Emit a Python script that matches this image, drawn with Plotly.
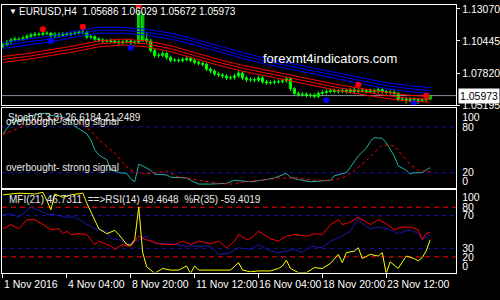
import plotly.graph_objects as go

# ---------------- data ----------------
bar_idx = list(range(108))
opens = [1.1000, 1.1013, 1.1037, 1.1052, 1.1060, 1.1058, 1.1068, 1.1084, 1.1092, 1.1100,
         1.1098, 1.1108, 1.1106, 1.1084, 1.1100, 1.1092, 1.1100, 1.1098, 1.1102, 1.1108,
         1.1116, 1.1114, 1.1076, 1.1078, 1.1060, 1.1052, 1.1044, 1.1046, 1.1042, 1.1037,
         1.1029, 1.1037, 1.1044, 1.1029, 1.1035, 1.1050, 1.1060, 1.1044, 1.0965, 1.0925,
         1.0927, 1.0941, 1.0909, 1.0885, 1.0887, 1.0883, 1.0893, 1.0901, 1.0885, 1.0869,
         1.0861, 1.0853, 1.0814, 1.0798, 1.0774, 1.0766, 1.0758, 1.0742, 1.0744, 1.0758,
         1.0782, 1.0742, 1.0726, 1.0728, 1.0724, 1.0742, 1.0710, 1.0702, 1.0704, 1.0710,
         1.0712, 1.0718, 1.0734, 1.0654, 1.0615, 1.0607, 1.0609, 1.0599, 1.0601, 1.0591,
         1.0615, 1.0623, 1.0631, 1.0639, 1.0631, 1.0633, 1.0639, 1.0631, 1.0646, 1.0631,
         1.0639, 1.0637, 1.0631, 1.0639, 1.0631, 1.0646, 1.0631, 1.0623, 1.0625, 1.0615,
         1.0567, 1.0569, 1.0559, 1.0567, 1.0565, 1.0559, 1.0561, 1.05686]
highs = [1.1030, 1.1052, 1.1068, 1.1080, 1.1074, 1.1086, 1.1100, 1.1112, 1.1118, 1.1114,
         1.1126, 1.1124, 1.1120, 1.1116, 1.1114, 1.1118, 1.1116, 1.1120, 1.1126, 1.1134,
         1.1138, 1.1128, 1.1094, 1.1092, 1.1074, 1.1068, 1.1062, 1.1064, 1.1058, 1.1052,
         1.1054, 1.1062, 1.1060, 1.1052, 1.1300, 1.1278, 1.1110, 1.1060, 1.0984, 1.0946,
         1.0962, 1.0956, 1.0924, 1.0904, 1.0902, 1.0910, 1.0920, 1.0916, 1.0900, 1.0884,
         1.0876, 1.0868, 1.0830, 1.0812, 1.0790, 1.0782, 1.0772, 1.0762, 1.0776, 1.0800,
         1.0796, 1.0758, 1.0746, 1.0744, 1.0760, 1.0756, 1.0726, 1.0722, 1.0728, 1.0730,
         1.0736, 1.0752, 1.0748, 1.0668, 1.0630, 1.0626, 1.0624, 1.0618, 1.0616, 1.0632,
         1.0642, 1.0650, 1.0656, 1.0654, 1.0652, 1.0658, 1.0654, 1.0664, 1.0662, 1.0658,
         1.0656, 1.0652, 1.0656, 1.0654, 1.0662, 1.0660, 1.0646, 1.0642, 1.0640, 1.0628,
         1.0586, 1.0584, 1.0584, 1.0584, 1.0580, 1.0578, 1.0586, 1.06029]
lows = [1.0984, 1.1000, 1.1022, 1.1040, 1.1042, 1.1046, 1.1056, 1.1070, 1.1078, 1.1082,
        1.1086, 1.1090, 1.1066, 1.1070, 1.1076, 1.1080, 1.1082, 1.1084, 1.1090, 1.1094,
        1.1098, 1.1060, 1.1062, 1.1044, 1.1036, 1.1028, 1.1030, 1.1026, 1.1020, 1.1012,
        1.1014, 1.1022, 1.1010, 1.1016, 1.1022, 1.1036, 1.1024, 1.0950, 1.0906, 1.0908,
        1.0912, 1.0890, 1.0868, 1.0870, 1.0866, 1.0868, 1.0878, 1.0868, 1.0852, 1.0844,
        1.0836, 1.0798, 1.0780, 1.0756, 1.0748, 1.0740, 1.0724, 1.0726, 1.0728, 1.0742,
        1.0726, 1.0708, 1.0710, 1.0706, 1.0708, 1.0692, 1.0686, 1.0686, 1.0688, 1.0694,
        1.0696, 1.0702, 1.0636, 1.0598, 1.0590, 1.0590, 1.0582, 1.0582, 1.0574, 1.0578,
        1.0600, 1.0606, 1.0616, 1.0614, 1.0614, 1.0618, 1.0612, 1.0614, 1.0614, 1.0616,
        1.0620, 1.0614, 1.0616, 1.0614, 1.0616, 1.0614, 1.0606, 1.0606, 1.0598, 1.0550,
        1.0550, 1.0532, 1.0542, 1.0546, 1.0530, 1.0544, 1.0548, 1.05672]
closes = [1.1013, 1.1037, 1.1052, 1.1060, 1.1058, 1.1068, 1.1084, 1.1092, 1.1100, 1.1098,
          1.1108, 1.1106, 1.1084, 1.1100, 1.1092, 1.1100, 1.1098, 1.1102, 1.1108, 1.1116,
          1.1114, 1.1076, 1.1078, 1.1060, 1.1052, 1.1044, 1.1046, 1.1042, 1.1037, 1.1029,
          1.1037, 1.1044, 1.1029, 1.1035, 1.1267, 1.1255, 1.1044, 1.0965, 1.0925, 1.0927,
          1.0941, 1.0909, 1.0885, 1.0887, 1.0883, 1.0893, 1.0901, 1.0885, 1.0869, 1.0861,
          1.0853, 1.0814, 1.0798, 1.0774, 1.0766, 1.0758, 1.0742, 1.0744, 1.0758, 1.0782,
          1.0742, 1.0726, 1.0728, 1.0724, 1.0742, 1.0710, 1.0702, 1.0704, 1.0710, 1.0712,
          1.0718, 1.0734, 1.0654, 1.0615, 1.0607, 1.0609, 1.0599, 1.0601, 1.0591, 1.0615,
          1.0623, 1.0631, 1.0639, 1.0631, 1.0633, 1.0639, 1.0631, 1.0646, 1.0631, 1.0639,
          1.0637, 1.0631, 1.0639, 1.0631, 1.0646, 1.0631, 1.0623, 1.0625, 1.0615, 1.0567,
          1.0569, 1.0559, 1.0567, 1.0565, 1.0559, 1.0561, 1.0569, 1.05973]

band_idx = [0, 6, 12, 18, 24, 30, 36, 42, 48, 54, 60, 66, 72, 78, 84, 90, 96, 102, 107]
blue1 = [1.1029, 1.1060, 1.1084, 1.1124, 1.1156, 1.1156, 1.1140, 1.1108, 1.1060, 1.1005,
         1.0949, 1.0901, 1.0861, 1.0822, 1.0782, 1.0742, 1.0702, 1.0678, 1.0662]
blue2 = [1.1005, 1.1036, 1.1060, 1.1100, 1.1132, 1.1132, 1.1116, 1.1084, 1.1036, 1.0981,
         1.0925, 1.0877, 1.0837, 1.0798, 1.0758, 1.0718, 1.0678, 1.0654, 1.0638]
blue3 = [1.0981, 1.1012, 1.1036, 1.1076, 1.1108, 1.1108, 1.1092, 1.1060, 1.1012, 1.0957,
         1.0901, 1.0853, 1.0813, 1.0774, 1.0734, 1.0694, 1.0654, 1.0630, 1.0614]
red1 = [1.0917, 1.0941, 1.0973, 1.1005, 1.1044, 1.1060, 1.1044, 1.1005, 1.0949, 1.0893,
        1.0845, 1.0806, 1.0766, 1.0726, 1.0686, 1.0654, 1.0623, 1.0599, 1.0591]
red2 = [1.0893, 1.0917, 1.0949, 1.0981, 1.1020, 1.1036, 1.1020, 1.0981, 1.0925, 1.0869,
        1.0821, 1.0782, 1.0742, 1.0702, 1.0662, 1.0630, 1.0599, 1.0575, 1.0567]
red3 = [1.0869, 1.0893, 1.0925, 1.0957, 1.0996, 1.1012, 1.0996, 1.0957, 1.0901, 1.0845,
        1.0797, 1.0758, 1.0718, 1.0678, 1.0638, 1.0606, 1.0575, 1.0551, 1.0543]

red_dot_idx = [10, 20, 34, 89, 106]
red_dot_price = [1.1140, 1.1160, 1.1331, 1.0686, 1.0596]
blue_dot_idx = [12, 32, 81, 103]
blue_dot_price = [1.1044, 1.0989, 1.0559, 1.0535]

last_price = 1.05973
price_ticks = [1.13070, 1.10445, 1.07820, 1.05195]

stoch_main_idx = [0, 2, 6, 9, 11, 12, 14, 16, 18, 21, 22, 23, 24, 26, 27, 29, 31, 32, 33, 34,
                  35, 37, 38, 41, 42, 46, 47, 49, 52, 56, 58, 60, 62, 66, 68, 70, 71, 72, 74, 77,
                  79, 82, 83, 86, 87, 89, 91, 92, 93, 95, 96, 98, 99, 101, 102, 103, 105, 107]
stoch_main = [71, 85, 93, 97, 98, 95, 94, 91, 81, 71, 63, 50, 43, 37, 24, 20, 19, 12, 8, 31,
              29, 23, 18, 17, 14, 13, 10, 5, 5, 6, 10, 9, 8, 11, 13, 17, 19, 14, 11, 8,
              9, 10, 16, 20, 27, 42, 52, 61, 66, 65, 59, 42, 29, 23, 18, 20, 20, 26.6184]
stoch_sig_idx = [0, 2, 4, 8, 12, 16, 19, 22, 24, 28, 30, 32, 34, 37, 41, 44, 47, 51, 54, 57,
                 62, 65, 69, 72, 74, 77, 79, 82, 85, 87, 90, 93, 95, 96, 98, 100, 102, 104, 107]
stoch_sig = [70, 74, 78, 87, 91, 91, 87, 75, 63, 46, 33, 23, 19, 19, 22, 14, 12, 8, 6, 5,
             9, 10, 13, 13, 13, 10, 10, 10, 13, 19, 31, 46, 56, 56, 55, 43, 31, 23, 21.2489]
stoch_levels = [80, 20]
stoch_tick_pos = [92, 80, 20, 8]
stoch_tick_text = ["100", "80", "20", "0"]

wpr_idx = [0, 4, 8, 10, 11, 12, 13, 15, 17, 20, 21, 22, 24, 26, 28, 29, 31, 32, 33, 34,
           35, 36, 37, 38, 40, 42, 44, 46, 47, 48, 49, 53, 57, 59, 60, 62, 64, 67, 69, 70,
           71, 72, 74, 76, 78, 80, 81, 82, 84, 85, 86, 88, 89, 90, 92, 94, 95, 96, 97, 99,
           101, 103, 104, 105, 106, 107]
wpr_shifted = [95, 97, 96, 98, 88, 77, 96, 92, 95, 97, 85, 75, 54, 48, 52, 47, 35, 34, 41, 80,
               25, 8, 4, 0, 6, 4, 4, 9, 0, 9, 4, 4, 4, 13, 4, 2, 3, 3, 6, 9,
               16, 6, 1, 1, 7, 6, 9, 12, 23, 13, 25, 27, 31, 18, 23, 21, 25, 0, 14, 6,
               21, 18, 15, 19, 27, 40.6]
rsi_idx = [0, 2, 4, 6, 8, 10, 12, 14, 15, 16, 17, 19, 21, 23, 24, 27, 28, 30, 31, 32,
           34, 35, 37, 39, 41, 43, 45, 47, 49, 52, 54, 56, 58, 59, 61, 62, 64, 67, 69, 71,
           73, 76, 78, 80, 82, 84, 85, 87, 89, 91, 92, 94, 96, 98, 100, 102, 104, 105, 106, 107]
rsi = [54, 59, 54, 65, 65, 59, 53, 54, 48, 51, 47, 48, 47, 35, 39, 33, 29, 35, 33, 33,
       45, 42, 39, 36, 35, 35, 39, 35, 39, 36, 39, 31, 39, 47, 41, 42, 51, 42, 39, 45,
       47, 45, 48, 47, 59, 65, 59, 62, 68, 62, 59, 65, 60, 53, 56, 56, 53, 41, 48, 49.5]
mfi_idx = [0, 2, 4, 7, 8, 11, 13, 16, 18, 21, 23, 26, 27, 29, 31, 32, 34, 36, 38, 41,
           43, 46, 49, 52, 54, 57, 59, 62, 64, 67, 69, 71, 73, 75, 77, 80, 82, 85, 87, 89,
           90, 92, 94, 97, 99, 102, 104, 105, 107]
mfi = [71, 72, 68, 80, 78, 72, 71, 68, 68, 60, 54, 51, 42, 41, 36, 36, 41, 45, 36, 36,
       35, 33, 33, 33, 23, 25, 31, 29, 35, 27, 25, 27, 29, 25, 33, 31, 39, 45, 51, 68,
       60, 54, 56, 53, 48, 53, 48, 41, 46.7]
osc_red_levels = [80, 20]
osc_blue_levels = [70, 30]
osc_tick_pos = [92, 80, 70, 30, 20, 8]
osc_tick_text = ["100", "80", "70", "30", "20", "0"]

time_tick_idx = [0, 16, 32, 48, 64, 80, 96]
time_tick_text = ["1 Nov 2016", "4 Nov 04:00", "8 Nov 20:00", "11 Nov 12:00",
                  "16 Nov 04:00", "18 Nov 20:00", "23 Nov 12:00"]

title_text = "EURUSD,H4  1.05686 1.06029 1.05672 1.05973"
stoch_text = "Stoch(8,3,3) 26.6184 21.2489"
signal_text = "overbought- strong signal"
osc_text = "MFI(21) 46.7311  ==>RSI(14) 49.4648  %R(35) -59.4019"
watermark = "forexmt4indicators.com"

# ---------------- figure ----------------
FONT = "Liberation Sans, Arial, sans-serif"
W, H = 500, 300
LIME = "#00ff00"
fig = go.Figure()

# candle wicks
wx, wy = [], []
for i, h, l in zip(bar_idx, highs, lows):
    wx += [i, i, None]
    wy += [l, h, None]
fig.add_trace(go.Scatter(x=wx, y=wy, mode="lines", xaxis="x", yaxis="y",
                         line=dict(color=LIME, width=1), showlegend=False, hoverinfo="skip"))

# candle bodies: rising = hollow, falling = filled
up_x, up_base, up_h, dn_x, dn_base, dn_h = [], [], [], [], [], []
for i, o, c in zip(bar_idx, opens, closes):
    if c >= o:
        up_x.append(i); up_base.append(o); up_h.append(max(c - o, 0.00008))
    else:
        dn_x.append(i); dn_base.append(c); dn_h.append(o - c)
fig.add_trace(go.Bar(x=up_x, y=up_h, base=up_base, xaxis="x", yaxis="y", width=0.55,
                     marker=dict(color="#000000", line=dict(color=LIME, width=1)),
                     showlegend=False, hoverinfo="skip"))
fig.add_trace(go.Bar(x=dn_x, y=dn_h, base=dn_base, xaxis="x", yaxis="y", width=0.55,
                     marker=dict(color=LIME, line=dict(color=LIME, width=1)),
                     showlegend=False, hoverinfo="skip"))

for arr, col in [(blue1, "#0000ff"), (blue2, "#0000ff"), (blue3, "#0000ff"),
                 (red1, "#ff0000"), (red2, "#ff0000"), (red3, "#ff0000")]:
    fig.add_trace(go.Scatter(x=band_idx, y=arr, mode="lines", xaxis="x", yaxis="y",
                             line=dict(color=col, width=1), showlegend=False, hoverinfo="skip"))

fig.add_trace(go.Scatter(x=red_dot_idx, y=red_dot_price, mode="markers", xaxis="x", yaxis="y",
                         marker=dict(color="#ff0000", size=6), showlegend=False, hoverinfo="skip"))
fig.add_trace(go.Scatter(x=blue_dot_idx, y=blue_dot_price, mode="markers", xaxis="x", yaxis="y",
                         marker=dict(color="#0000ff", size=6), showlegend=False, hoverinfo="skip"))

# stochastic
fig.add_trace(go.Scatter(x=stoch_main_idx, y=stoch_main, mode="lines", xaxis="x2", yaxis="y2",
                         line=dict(color="#20b2aa", width=1), showlegend=False, hoverinfo="skip"))
fig.add_trace(go.Scatter(x=stoch_sig_idx, y=stoch_sig, mode="lines", xaxis="x2", yaxis="y2",
                         line=dict(color="#ff0000", width=1, dash="3px,3px"),
                         showlegend=False, hoverinfo="skip"))

# oscillators
fig.add_trace(go.Scatter(x=mfi_idx, y=mfi, mode="lines", xaxis="x3", yaxis="y3",
                         line=dict(color="#1818b0", width=1), showlegend=False, hoverinfo="skip"))
fig.add_trace(go.Scatter(x=rsi_idx, y=rsi, mode="lines", xaxis="x3", yaxis="y3",
                         line=dict(color="#ff0000", width=1), showlegend=False, hoverinfo="skip"))
fig.add_trace(go.Scatter(x=wpr_idx, y=wpr_shifted, mode="lines", xaxis="x3", yaxis="y3",
                         line=dict(color="#ffff00", width=1), showlegend=False, hoverinfo="skip"))

shapes = []
shapes.append(dict(type="line", xref="x domain", yref="y", x0=0, x1=1, y0=last_price, y1=last_price,
                   line=dict(color="#7f8fa0", width=1), layer="below"))
for lv in stoch_levels:
    shapes.append(dict(type="line", xref="x2 domain", yref="y2", x0=0, x1=1, y0=lv, y1=lv,
                       line=dict(color="#1010a8", width=1, dash="4px,4px"), layer="below"))
for lv in osc_red_levels:
    shapes.append(dict(type="line", xref="x3 domain", yref="y3", x0=0, x1=1, y0=lv, y1=lv,
                       line=dict(color="#ff0000", width=1, dash="5px,4px"), layer="below"))
for lv in osc_blue_levels:
    shapes.append(dict(type="line", xref="x3 domain", yref="y3", x0=0, x1=1, y0=lv, y1=lv,
                       line=dict(color="#1010a8", width=1, dash="4px,4px"), layer="below"))

def px_x(v):
    return v / W

def px_y(v):
    return 1 - v / H

ann = []
ann.append(dict(text="▼", x=px_x(7), y=px_y(10), xref="paper", yref="paper", xanchor="left",
                yanchor="middle", showarrow=False, font=dict(color="white", size=8, family=FONT)))
ann.append(dict(text=title_text, x=px_x(17), y=px_y(10), xref="paper", yref="paper",
                xanchor="left", yanchor="middle", showarrow=False,
                font=dict(color="white", size=10, family=FONT)))
ann.append(dict(text=watermark, x=px_x(262), y=px_y(58), xref="paper", yref="paper",
                xanchor="left", yanchor="middle", showarrow=False,
                font=dict(color="white", size=13, family=FONT)))
ann.append(dict(text=stoch_text, x=px_x(6), y=px_y(119), xref="paper", yref="paper",
                xanchor="left", yanchor="middle", showarrow=False,
                font=dict(color="#e8e8e8", size=10, family=FONT)))
ann.append(dict(text=signal_text, x=px_x(4), y=px_y(122.5), xref="paper", yref="paper",
                xanchor="left", yanchor="middle", showarrow=False,
                font=dict(color="#e8e8e8", size=10, family=FONT)))
ann.append(dict(text=signal_text, x=px_x(4), y=px_y(170), xref="paper", yref="paper",
                xanchor="left", yanchor="middle", showarrow=False,
                font=dict(color="#e8e8e8", size=10, family=FONT)))
ann.append(dict(text=osc_text, x=px_x(7), y=px_y(203), xref="paper", yref="paper",
                xanchor="left", yanchor="middle", showarrow=False,
                font=dict(color="#e8e8e8", size=10, family=FONT)))
ann.append(dict(text=f"{last_price:.5f}", x=px_x(459), y=last_price, xref="paper", yref="y",
                xanchor="left", yanchor="middle", showarrow=False, bgcolor="white", borderpad=1,
                font=dict(color="black", size=10.5, family=FONT)))
for i, t in zip(time_tick_idx, time_tick_text):
    ann.append(dict(text=t, x=i, y=px_y(290), xref="x3", yref="paper", xanchor="left",
                    yanchor="middle", showarrow=False, xshift=-1,
                    font=dict(color="white", size=10.5, family=FONT)))

XDOM = [2 / W, 457 / W]
XR = [-0.25, 113.5]
axis_common = dict(showgrid=False, zeroline=False, showline=True, linecolor="white",
                   linewidth=1, mirror=True)

fig.update_layout(
    width=W, height=H, margin=dict(l=0, r=0, t=0, b=0),
    paper_bgcolor="black", plot_bgcolor="black", showlegend=False,
    font=dict(family=FONT, color="white", size=10.5), barmode="overlay",
    xaxis=dict(domain=XDOM, range=XR, anchor="y", showticklabels=False, ticks="", **axis_common),
    xaxis2=dict(domain=XDOM, range=XR, anchor="y2", showticklabels=False, ticks="", **axis_common),
    xaxis3=dict(domain=XDOM, range=XR, anchor="y3", showticklabels=False, ticks="outside",
                ticklen=4, tickcolor="white", tickvals=time_tick_idx, **axis_common),
    yaxis=dict(domain=[1 - 106 / H, 1 - 3 / H], range=[1.0519, 1.1339], anchor="x", side="right",
               tickvals=price_ticks, ticktext=[f"{v:.5f}" for v in price_ticks],
               ticks="outside", ticklen=3, tickcolor="white",
               tickfont=dict(color="white", size=10.5, family=FONT), **axis_common),
    yaxis2=dict(domain=[1 - 191 / H, 1 - 109 / H], range=[0, 104.7], anchor="x2", side="right",
                tickvals=stoch_tick_pos, ticktext=stoch_tick_text, ticks="outside", ticklen=3,
                tickcolor="black",
                tickfont=dict(color="white", size=10.5, family=FONT), **axis_common),
    yaxis3=dict(domain=[1 - 278 / H, 1 - 193 / H], range=[1, 101], anchor="x3", side="right",
                tickvals=osc_tick_pos, ticktext=osc_tick_text, ticks="outside", ticklen=3,
                tickcolor="black",
                tickfont=dict(color="white", size=10.5, family=FONT), **axis_common),
    shapes=shapes, annotations=ann,
)

fig.write_html("out.html")
